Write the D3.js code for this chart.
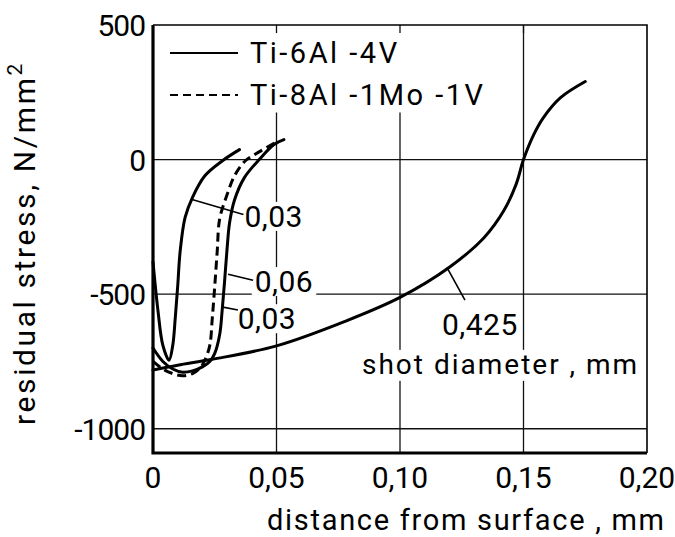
<!DOCTYPE html>
<html>
<head>
<meta charset="utf-8">
<script src="https://cdn.jsdelivr.net/npm/d3@7"></script>
<style>
  body { margin: 0; background: #fff; }
  svg text { font-family: Roboto, "DejaVu Sans", sans-serif; fill: #000; }
</style>
</head>
<body>
<div id="chart"></div>
<script>
// residual stress profiles (x in mm, y in N/mm2)
var ti64_003 = [[0,-380],[0.002,-560],[0.004,-690],[0.0065,-745],[0.008,-690],[0.009,-590],[0.010,-470],[0.011,-340],[0.013,-215],[0.016,-140],[0.021,-60],[0.028,-5],[0.035,37]];
var ti64_006 = [[0,-700],[0.004,-750],[0.008,-778],[0.012,-790],[0.016,-785],[0.020,-770],[0.023,-750],[0.025,-720],[0.027,-650],[0.028,-560],[0.029,-450],[0.030,-330],[0.031,-235],[0.033,-150],[0.037,-67],[0.043,0],[0.049,56],[0.053,74]];
var ti81_003 = [[0,-750],[0.004,-778],[0.008,-795],[0.012,-803],[0.016,-795],[0.019,-775],[0.021,-745],[0.023,-690],[0.024,-590],[0.025,-470],[0.026,-340],[0.027,-220],[0.030,-130],[0.033,-60],[0.037,-8],[0.041,18],[0.050,65]];
var ti64_0425 = [[0,-782],[0.010,-764],[0.024,-742],[0.050,-692],[0.078,-600],[0.100,-512],[0.120,-400],[0.134,-290],[0.142,-190],[0.147,-92],[0.150,0],[0.154,90],[0.158,155],[0.165,230],[0.175,290]];

var xTicks = [0, 0.05, 0.10, 0.15, 0.20];
var xTickLabels = ['0', '0,05', '0,10', '0,15', '0,20'];
var yTicks = [500, 0, -500, -1000];
var yTickLabels = ['500', '0', '-500', '-1000'];
var legendNames = ['Ti-6Al -4V', 'Ti-8Al -1Mo -1V'];

// shot diameter labels: text anchor and leader line end points
var curveLabels = [
  {text: '0,03',  at: [0.0370, -250], leader: [[0.0158, -148], [0.0366, -204]]},
  {text: '0,06',  at: [0.0412, -492], leader: [[0.0304, -426], [0.0405, -448]]},
  {text: '0,03',  at: [0.0343, -630], leader: [[0.0283, -548], [0.0344, -559]]},
  {text: '0,425', at: [0.1170, -650], leader: [[0.1190, -400], [0.1263, -522]]}
];

var W = 675, H = 537;
var svg = d3.select('#chart').append('svg').attr('width', W).attr('height', H);

var x = d3.scaleLinear().domain([0, 0.2]).range([153, 647]);
var y = d3.scaleLinear().domain([-1090, 500]).range([453, 25]);

// grid
var grid = svg.append('g').attr('stroke', '#111').attr('stroke-width', 1.3);
xTicks.slice(1, 4).forEach(function (t) {
  var top = t < 0.12 ? y(175) : y(500);
  grid.append('line').attr('x1', x(t)).attr('x2', x(t)).attr('y1', top).attr('y2', y(-1090));
  grid.append('line').attr('x1', x(t)).attr('x2', x(t)).attr('y1', y(500)).attr('y2', y(470));
});
yTicks.slice(1).forEach(function (t) {
  grid.append('line').attr('x1', x(0)).attr('x2', x(0.2)).attr('y1', y(t)).attr('y2', y(t));
});

// frame: thin top/right, heavy left/bottom
svg.append('path').attr('fill', 'none').attr('stroke', '#000').attr('stroke-width', 1.6)
  .attr('d', 'M' + x(0) + ',' + y(500) + 'H' + x(0.2) + 'V' + y(-1090));
svg.append('path').attr('fill', 'none').attr('stroke', '#000').attr('stroke-width', 3.2)
  .attr('d', 'M' + x(0) + ',' + y(500) + 'V' + y(-1090) + 'H' + x(0.2));

// label backgrounds (break the grid like the original)
var bg = svg.append('g').attr('fill', '#fff');

var line = d3.line().x(function (d) { return x(d[0]); }).y(function (d) { return y(d[1]); })
  .curve(d3.curveCatmullRom.alpha(0.5));

var curves = svg.append('g').attr('fill', 'none').attr('stroke', '#000').attr('stroke-width', 3)
  .attr('stroke-linecap', 'round');

// labels with white boxes
var labelG = svg.append('g');
curveLabels.forEach(function (c) {
  var t = labelG.append('text').attr('x', x(c.at[0])).attr('y', y(c.at[1]))
    .attr('font-size', 30).attr('letter-spacing', 0.5).text(c.text);
  var b = t.node().getBBox();
  bg.append('rect').attr('x', b.x - 3).attr('y', b.y + 3).attr('width', b.width + 6).attr('height', b.height - 6);
});
var shot = labelG.append('text').attr('x', x(0.0846)).attr('y', y(-796))
  .attr('font-size', 28).attr('letter-spacing', 2).text('shot diameter , mm');
var sb = shot.node().getBBox();
bg.append('rect').attr('x', sb.x - 4).attr('y', sb.y + 2).attr('width', sb.width + 6).attr('height', sb.height - 2);

curves.append('path').attr('d', line(ti64_0425));
curves.append('path').attr('d', line(ti64_003));
curves.append('path').attr('d', line(ti64_006));
curves.append('path').attr('d', line(ti81_003)).attr('stroke-dasharray', '9,5').attr('stroke-linecap', 'butt');

curveLabels.forEach(function (c) {
  svg.append('line').attr('stroke', '#000').attr('stroke-width', 1.6)
    .attr('x1', x(c.leader[0][0])).attr('y1', y(c.leader[0][1]))
    .attr('x2', x(c.leader[1][0])).attr('y2', y(c.leader[1][1]));
});

// legend
var leg = svg.append('g');
legendNames.forEach(function (n, i) {
  var ly = 53 + i * 42;
  leg.append('line').attr('x1', 170).attr('x2', 238).attr('y1', ly).attr('y2', ly)
    .attr('stroke', '#000').attr('stroke-width', 2.2)
    .attr('stroke-dasharray', i ? '8,5' : null);
  leg.append('text').attr('x', 250).attr('y', ly + 10).attr('font-size', 29)
    .attr('letter-spacing', 2.5).text(n);
});

// tick labels
svg.append('g').selectAll('text').data(xTicks).join('text')
  .attr('x', function (d) { return x(d); }).attr('y', 488)
  .attr('text-anchor', 'middle').attr('font-size', 30)
  .text(function (d, i) { return xTickLabels[i]; });
svg.append('g').selectAll('text').data(yTicks).join('text')
  .attr('x', 145).attr('y', function (d) { return y(d) + 11; })
  .attr('text-anchor', 'end').attr('font-size', 30).attr('letter-spacing', -1)
  .text(function (d, i) { return yTickLabels[i]; });

// axis titles
svg.append('text').attr('x', 267).attr('y', 530).attr('font-size', 29).attr('letter-spacing', 1.7)
  .text('distance from surface , mm');
var yl = svg.append('text').attr('transform', 'translate(35,243) rotate(-90)')
  .attr('text-anchor', 'middle').attr('font-size', 30).attr('letter-spacing', 2.6);
yl.append('tspan').text('residual  stress, N/mm');
yl.append('tspan').attr('dy', -13).attr('font-size', 21).text('2');
</script>
</body>
</html>
